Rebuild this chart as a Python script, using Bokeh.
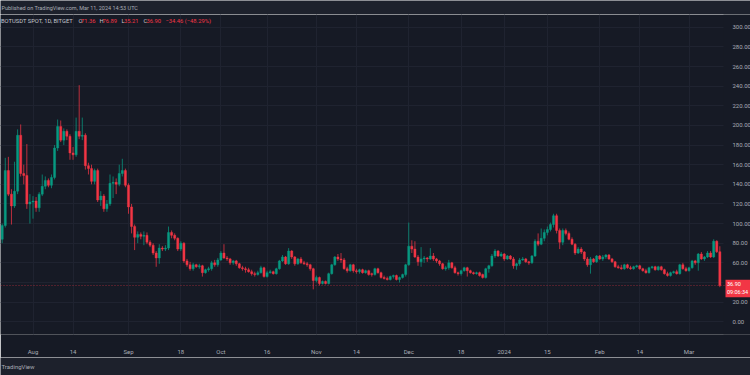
import pandas as pd
from bokeh.plotting import figure
from bokeh.models import (Range1d, FixedTicker, NumeralTickFormatter, Span, Label,
                          ColumnDataSource, BoxAnnotation)
from bokeh.layouts import column
from bokeh.embed import file_html
from bokeh.resources import INLINE
from bokeh.core.properties import value

# ---------------- data (daily candles, BOTUSDT spot, Bitget) ----------------
start_date = "2023-07-22"

open_ = [
    84, 98, 154, 130, 118, 133, 190, 151, 149, 120,
    122, 123, 116, 130, 138, 144, 139, 147, 177, 199,
    185, 194, 189, 172, 170, 194, 189, 190, 159, 156,
    143, 154, 124, 128, 115, 120, 141, 142, 140, 151,
    154, 139, 117, 97, 86, 89, 87, 88, 81, 78,
    70, 65, 75, 74, 75, 91, 88, 85, 74, 80,
    62, 58, 54, 58, 56, 57, 50, 53, 54, 60,
    58, 63, 70, 65, 64, 60, 62, 59, 55, 54,
    53, 51, 49, 48, 50, 55, 46, 50, 51, 49,
    54, 62, 66, 59, 72, 66, 59, 64, 60, 59,
    58, 54, 42, 45, 39, 41, 39, 49, 58, 66,
    64, 63, 54, 52, 58, 52, 51, 53, 50, 52,
    49, 48, 54, 50, 45, 44, 43, 46, 47, 43,
    45, 48, 58, 77, 74, 66, 61, 64, 65, 64,
    67, 64, 62, 59, 54, 55, 60, 55, 50, 49,
    52, 55, 52, 50, 49, 50, 48, 45, 54, 57,
    67, 72, 67, 69, 64, 67, 64, 57, 59, 63,
    64, 61, 60, 67, 82, 79, 85, 91, 94, 99,
    108, 93, 81, 93, 90, 84, 79, 70, 74, 71,
    64, 58, 64, 61, 67, 64, 66, 68, 64, 61,
    56, 55, 54, 58, 55, 54, 56, 57, 54, 52,
    50, 55, 56, 53, 56, 53, 49, 47, 50, 51,
    49, 58, 54, 52, 55, 62, 60, 69, 64, 66,
    70, 66, 82, 71.36,
]
high = [
    100, 167, 168, 135, 163, 196, 201, 160, 181, 130,
    128, 127, 132, 150, 148, 146, 150, 180, 206, 205,
    197, 196, 191, 178, 208, 241, 208, 192, 162, 160,
    156, 156, 133, 130, 124, 150, 148, 146, 160, 166,
    156, 141, 120, 99, 92, 91, 92, 91, 83, 80,
    72, 79, 77, 78, 97, 93, 90, 86, 82, 81,
    64, 61, 60, 59, 59, 58, 54, 56, 62, 63,
    65, 72, 79, 67, 65, 63, 63, 60, 57, 56,
    55, 53, 51, 52, 57, 56, 52, 53, 52, 55,
    63, 68, 67, 75, 73, 67, 65, 66, 62, 61,
    59, 55, 47, 46, 42, 42, 50, 59, 67, 69,
    70, 65, 56, 59, 59, 54, 54, 54, 53, 53,
    50, 55, 55, 51, 47, 46, 47, 48, 48, 46,
    49, 59, 101, 83, 82, 68, 76, 67, 66, 75,
    70, 65, 63, 60, 57, 63, 61, 57, 51, 53,
    56, 56, 53, 51, 51, 51, 49, 55, 58, 69,
    74, 73, 71, 70, 68, 68, 66, 60, 65, 66,
    65, 62, 68, 84, 90, 95, 94, 97, 101, 110,
    110, 95, 95, 95, 92, 86, 80, 76, 76, 72,
    66, 66, 65, 68, 68, 68, 69, 69, 65, 62,
    58, 58, 59, 59, 57, 57, 58, 58, 55, 54,
    56, 57, 57, 57, 57, 54, 51, 51, 52, 53,
    59, 60, 56, 56, 63, 63, 70, 71, 67, 72,
    72, 84, 83, 76.89,
]
low = [
    80, 96, 128, 99, 116, 130, 148, 140, 115, 100,
    105, 112, 112, 128, 135, 137, 136, 145, 174, 183,
    180, 185, 165, 165, 168, 186, 185, 155, 150, 140,
    140, 122, 118, 112, 112, 118, 126, 130, 138, 148,
    137, 110, 90, 73, 80, 84, 78, 79, 76, 68,
    56, 59, 72, 72, 73, 85, 83, 72, 72, 60,
    56, 52, 52, 55, 54, 46, 49, 51, 52, 56,
    56, 62, 64, 62, 58, 58, 57, 54, 52, 50,
    50, 47, 46, 47, 49, 45, 45, 49, 48, 48,
    53, 61, 58, 58, 64, 57, 58, 59, 58, 56,
    52, 33, 40, 37, 38, 38, 38, 48, 57, 62,
    60, 53, 50, 51, 50, 49, 49, 49, 49, 47,
    46, 47, 49, 44, 43, 42, 42, 44, 42, 40,
    44, 46, 57, 70, 65, 57, 56, 60, 61, 63,
    62, 60, 57, 53, 52, 53, 54, 49, 47, 47,
    51, 46, 49, 48, 48, 46, 44, 44, 50, 56,
    65, 66, 66, 62, 63, 63, 54, 53, 57, 62,
    60, 58, 59, 66, 77, 78, 82, 88, 92, 96,
    90, 74, 78, 88, 83, 78, 68, 69, 69, 62,
    56, 49, 60, 60, 63, 62, 64, 63, 60, 55,
    54, 53, 53, 54, 53, 53, 55, 53, 51, 49,
    49, 54, 52, 52, 52, 48, 46, 46, 49, 48,
    48, 53, 51, 51, 54, 58, 52, 63, 62, 65,
    65, 65, 70, 35.21,
]
close = [
    98, 154, 130, 118, 133, 190, 151, 149, 120, 122,
    123, 116, 130, 138, 144, 139, 147, 177, 199, 185,
    194, 189, 172, 170, 194, 189, 190, 159, 156, 143,
    154, 124, 128, 115, 120, 141, 142, 140, 151, 154,
    139, 117, 97, 86, 89, 87, 88, 81, 78, 70,
    65, 75, 74, 75, 91, 88, 85, 74, 80, 62,
    58, 54, 58, 56, 57, 50, 53, 54, 60, 58,
    63, 70, 65, 64, 60, 62, 59, 55, 54, 53,
    51, 49, 48, 50, 55, 46, 50, 51, 49, 54,
    62, 66, 59, 72, 66, 59, 64, 60, 59, 58,
    54, 42, 45, 39, 41, 39, 49, 58, 66, 64,
    63, 54, 52, 58, 52, 51, 53, 50, 52, 48,
    48, 54, 50, 45, 44, 43, 46, 47, 43, 45,
    48, 58, 77, 74, 66, 61, 64, 65, 64, 67,
    64, 62, 59, 54, 55, 60, 55, 50, 49, 52,
    55, 52, 50, 49, 50, 47, 45, 54, 57, 67,
    72, 67, 69, 64, 67, 64, 57, 59, 63, 64,
    61, 60, 67, 82, 79, 85, 91, 94, 99, 108,
    93, 81, 93, 90, 84, 79, 70, 74, 71, 64,
    58, 64, 61, 67, 64, 66, 68, 64, 61, 56,
    55, 54, 58, 55, 54, 56, 57, 54, 52, 50,
    55, 56, 53, 56, 53, 49, 47, 50, 51, 49,
    58, 54, 52, 55, 62, 60, 69, 64, 66, 70,
    66, 82, 71.36, 36.90,
]

tick_dates = ["2023-08-01", "2023-08-14", "2023-09-01", "2023-09-18", "2023-10-01",
              "2023-10-16", "2023-11-01", "2023-11-14", "2023-12-01", "2023-12-18",
              "2024-01-01", "2024-01-15", "2024-02-01", "2024-02-14", "2024-03-01"]
tick_labels = ["Aug", "14", "Sep", "18", "Oct", "16", "Nov", "14", "Dec", "18",
               "2024", "15", "Feb", "14", "Mar"]
price_ticks = list(range(0, 301, 20))

last_price_text = "36.90"
countdown_text = "09:06:34"
legend_items = [("BOTUSDT SPOT, 1D, BITGET", "label"), ("O", "label"), ("71.36", "val"),
                ("H", "label"), ("76.89", "val"), ("L", "label"), ("35.21", "val"),
                ("C", "label"), ("36.90", "val"), ("\u221234.46 (\u221248.29%)", "val")]

# ---------------- styling ----------------
BG = "#161a25"
STRIP = "#1d212c"
GRID = "#1f2330"
UP = "#089981"
DOWN = "#f23645"
TXT = "#a9acb5"
FONT = "Roboto"
DAY_MS = 86400000
W = 750

dates = pd.date_range(start_date, periods=len(close), freq="D")
colors = [UP if c >= o else DOWN for o, c in zip(open_, close)]
src = ColumnDataSource(dict(
    date=dates, open=open_, high=high, low=low, close=close,
    top=[max(o, c) for o, c in zip(open_, close)],
    bottom=[min(o, c) for o, c in zip(open_, close)],
    color=colors,
))

def ms(ts):
    return pd.Timestamp(ts).value // 10**6

# horizontal placement: first candle 1.7 px from the left edge, 3.08 px per day
t0 = ms(start_date)
def px_to_t(px):
    return t0 + (px - 1.7) / 3.08 * DAY_MS

x_start = px_to_t(0)
x_end = px_to_t(W)
scale_x = px_to_t(723)     # where the price scale begins

p = figure(width=W, height=343, x_axis_type="datetime", y_axis_location="right",
           x_range=Range1d(x_start, x_end), y_range=Range1d(-13, 313),
           output_backend="svg", toolbar_location=None,
           min_border_left=0, min_border_right=0, min_border_top=0, min_border_bottom=17,
           background_fill_color=BG, border_fill_color=BG, outline_line_color=None)

# price-scale area: plain background over the grid
p.add_layout(BoxAnnotation(left=scale_x, fill_color=BG, fill_alpha=1,
                           line_color=None, level="underlay"))

p.segment(x0="date", y0="high", x1="date", y1="low", line_color="color",
          line_width=1, line_alpha=0.75, source=src)
p.vbar(x="date", width=0.7 * DAY_MS, top="top", bottom="bottom",
       fill_color="color", line_color="color", line_width=0.4, source=src)

# axes
tick_ms = [ms(d) for d in tick_dates]
p.xaxis.ticker = FixedTicker(ticks=tick_ms, minor_ticks=[])
p.xaxis.major_label_overrides = {float(t): lab for t, lab in zip(tick_ms, tick_labels)}
p.yaxis.ticker = FixedTicker(ticks=price_ticks, minor_ticks=[])
p.yaxis.formatter = NumeralTickFormatter(format="0.00")
p.yaxis.fixed_location = scale_x
for ax in (p.xaxis, p.yaxis):
    ax.axis_line_color = None
    ax.major_tick_line_color = None
    ax.minor_tick_line_color = None
    ax.major_label_text_color = TXT
    ax.major_label_text_font = FONT
    ax.major_label_text_font_size = "6px"
p.xaxis.major_label_standoff = 7
p.yaxis.major_label_standoff = 3
p.grid.grid_line_color = GRID
p.grid.grid_line_width = 1

# last price line and tag (price + countdown)
p.add_layout(Span(location=close[-1], dimension="width", line_color=DOWN,
                  line_alpha=0.55, line_dash="1 2", line_width=1))
p.add_layout(BoxAnnotation(left=725, right=750, left_units="screen", right_units="screen",
                           top=close[-1] + 6, bottom=close[-1] - 12,
                           fill_color=DOWN, fill_alpha=1, line_color=None))
tag = p.text(x=[px_to_t(726.5)] * 2, y=[close[-1] + 1.5, close[-1] - 7],
             text=[last_price_text, countdown_text], text_font=value(FONT),
             text_font_size="5.5px", text_color="white",
             text_baseline="middle", text_align="left")
tag.level = "overlay"

# legend line (symbol + OHLC)
legend_x = [0.5, 78, 80.5, 99, 102, 121, 123.5, 143, 146, 165]
for (txt, kind), lx in zip(legend_items, legend_x):
    p.add_layout(Label(x=lx, y=306, x_units="screen", y_units="data", text=txt,
                       text_font=FONT, text_font_size="5.8px", text_baseline="middle",
                       text_color="#c3c6ce" if kind == "label" else DOWN))

# header and footer strips
def strip(h, txt, size):
    s = figure(width=W, height=h, x_range=Range1d(0, W), y_range=Range1d(0, h),
               output_backend="svg", toolbar_location=None, min_border=0,
               x_axis_location=None, y_axis_location=None,
               background_fill_color=STRIP, border_fill_color=STRIP, outline_line_color=None)
    s.grid.visible = False
    s.text(x=[1], y=[h / 2], text=[txt], text_font=value(FONT), text_font_size=size,
           text_baseline="middle", text_color=TXT)
    return s

header = strip(14, "Published on TradingView.com, Mar 11, 2024 14:53 UTC", "5.5px")
footer = strip(18, "TradingView", "6px")

layout = column(header, p, footer, spacing=0)
open("out.html", "w").write(file_html(layout, INLINE))
